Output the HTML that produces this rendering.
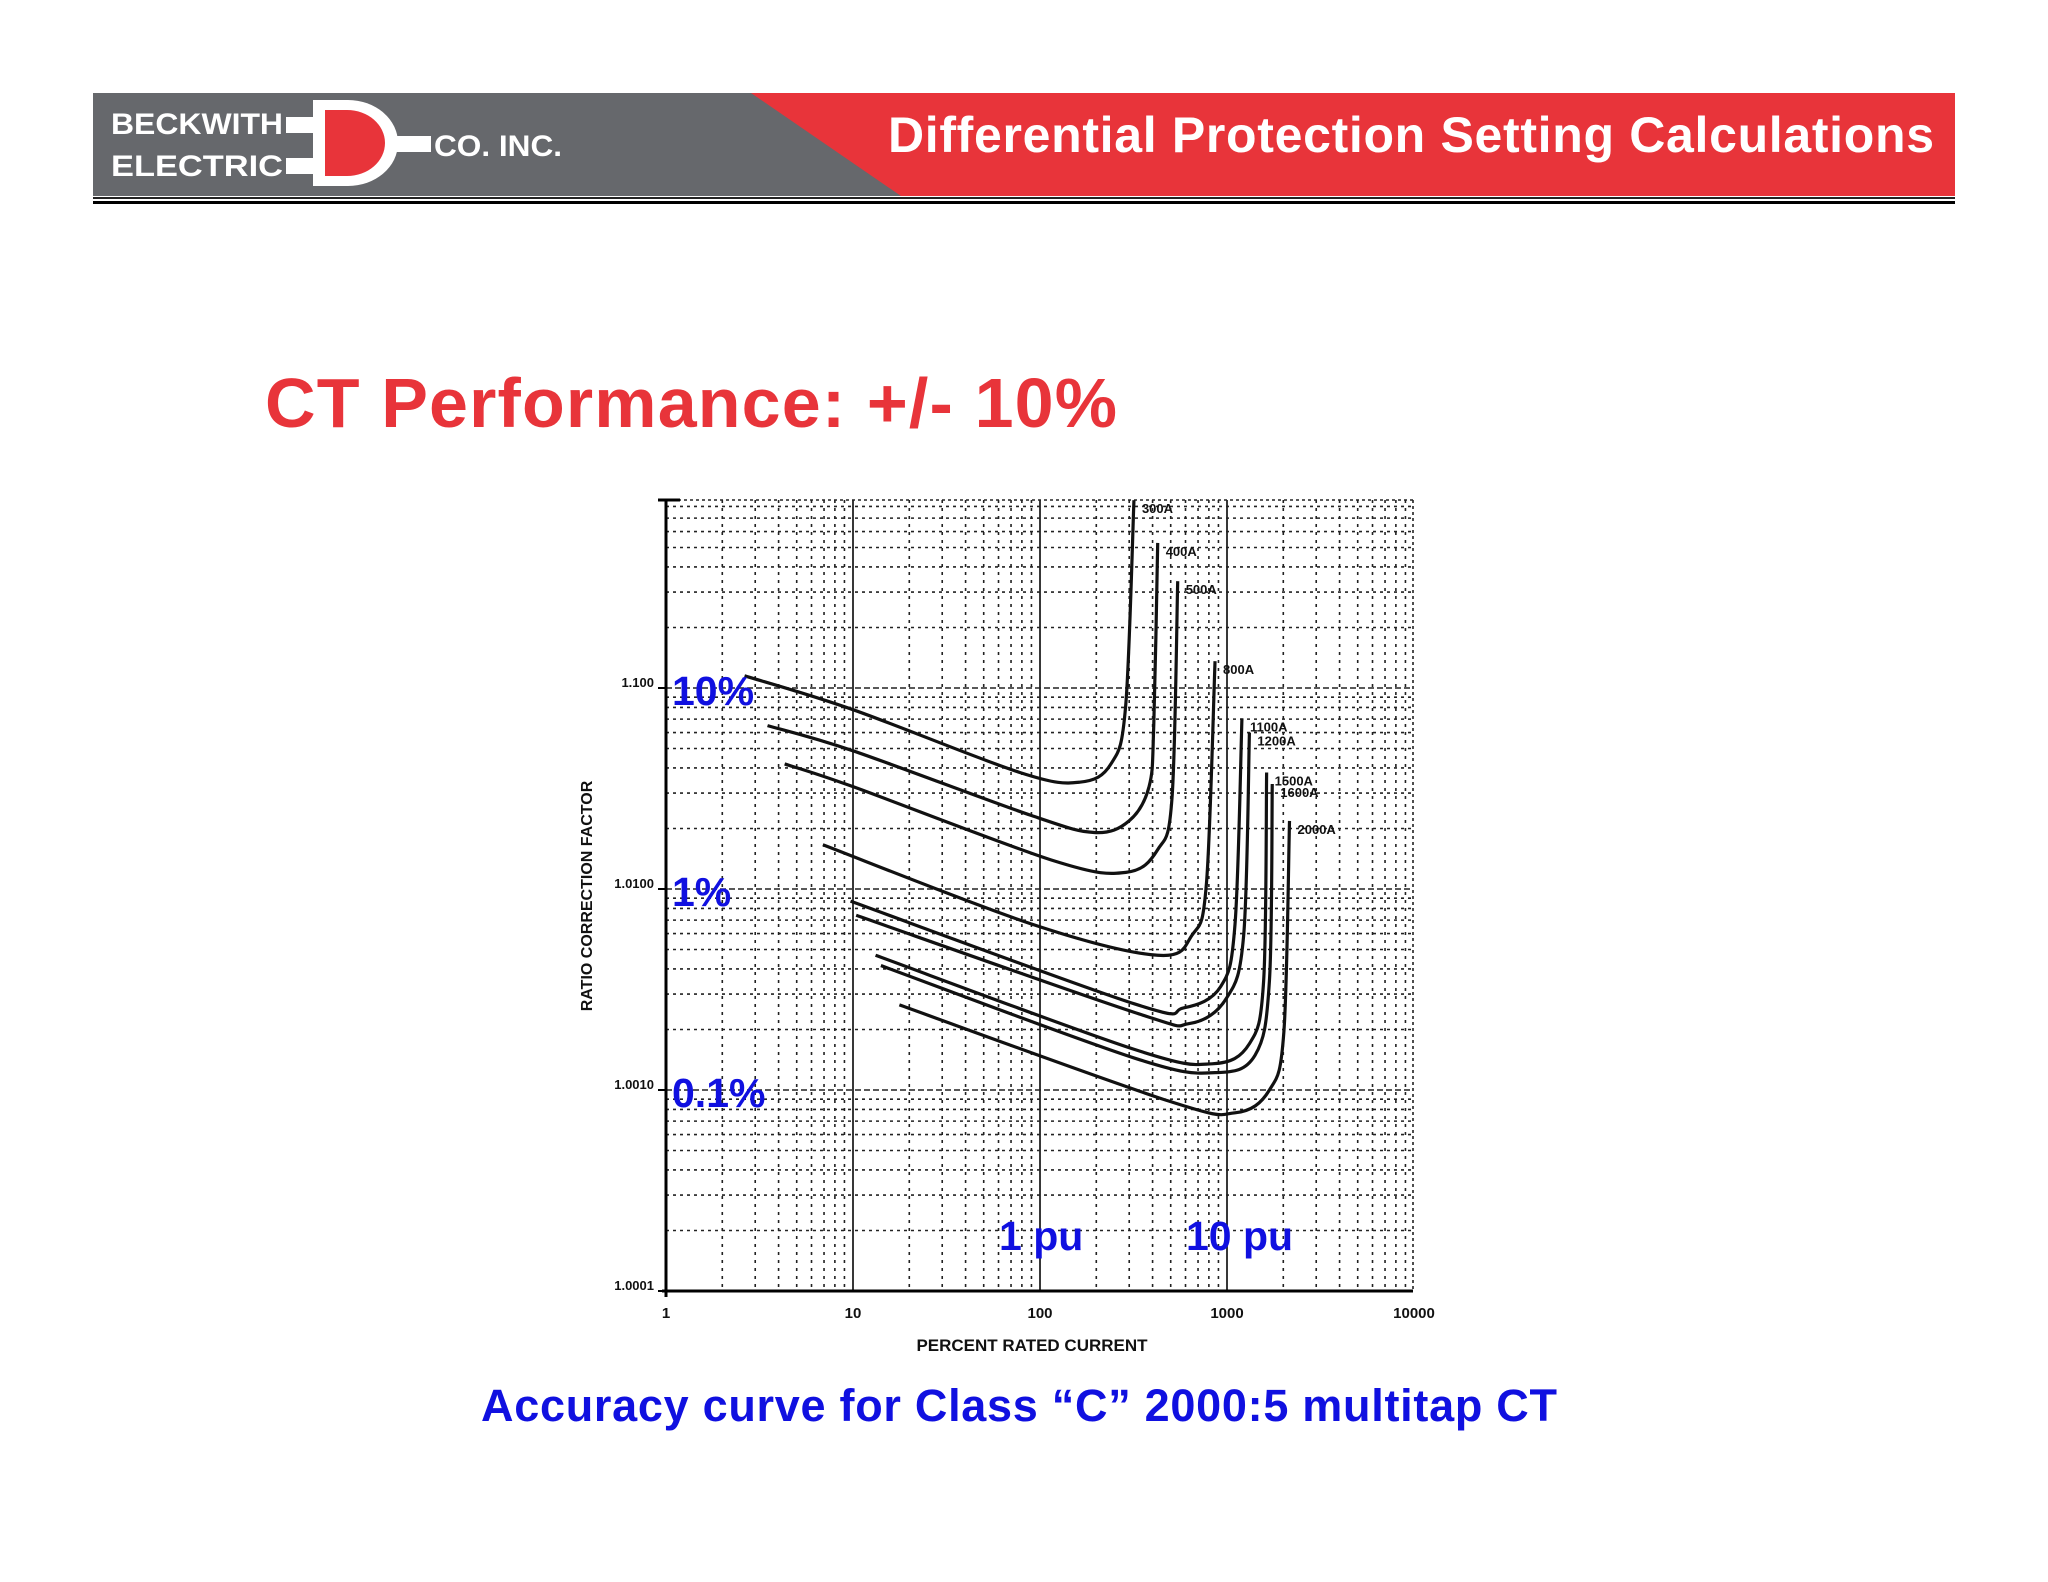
<!DOCTYPE html>
<html><head><meta charset="utf-8"><style>
html,body{margin:0;padding:0;background:#fff;}
svg{display:block;font-family:"Liberation Sans",Arial,sans-serif;}
</style></head><body>
<svg id="page" width="2048" height="1582" viewBox="0 0 2048 1582">
<g>
  <rect x="93" y="93" width="1862" height="103" fill="#66686c"/>
  <polygon points="751,93 1955,93 1955,196 901,196" fill="#e8343a"/>
  <rect x="93" y="197" width="1862" height="2" fill="#222"/>
  <rect x="93" y="201" width="1862" height="3" fill="#000"/>
  <text x="111" y="134" font-size="30" font-weight="bold" fill="#fff" textLength="172" lengthAdjust="spacingAndGlyphs">BECKWITH</text>
  <text x="111" y="176" font-size="30" font-weight="bold" fill="#fff" textLength="172" lengthAdjust="spacingAndGlyphs">ELECTRIC</text>
  <g>
    <rect x="286" y="117" width="30" height="16" fill="#fff"/>
    <rect x="286" y="158" width="30" height="16" fill="#fff"/>
    <rect x="395" y="136" width="36" height="16" fill="#fff"/>
    <path d="M313,100 h35 a50,43 0 0 1 0,86 h-35 z" fill="#fff"/>
    <path d="M325,110 h22 a38,33 0 0 1 0,66 h-22 z" fill="#e8343a"/>
  </g>
  <text x="434" y="156" font-size="30" font-weight="bold" fill="#fff" textLength="128" lengthAdjust="spacingAndGlyphs">CO. INC.</text>
  <text x="888" y="152" font-size="50" font-weight="bold" fill="#fff" textLength="1046">Differential Protection Setting Calculations</text>
</g>
<text x="265" y="427" font-size="70" font-weight="bold" fill="#e8343a" textLength="852">CT Performance: +/- 10%</text>
<g id="chart"></g>
<text x="481" y="1421" font-size="45" font-weight="bold" fill="#1010e0" textLength="1076">Accuracy curve for Class “C” 2000:5 multitap CT</text>
</svg>
<script>
// ---- data ----
const xTicks = [1, 10, 100, 1000, 10000];
const xTickLabels = ["1", "10", "100", "1000", "10000"];
const yTicks = [0.01, 0.1, 1, 10];
const yTickLabels = ["1.0001", "1.0010", "1.0100", "1.100"];
const seriesNames = ["300A","400A","500A","800A","1100A","1200A","1500A","1600A","2000A"];
const x300 = [2.63, 10, 78, 163, 240, 287, 318];
const y300 = [11.5, 7.8, 3.8, 3.4, 4.2, 8.1, 86];
const x400 = [3.49, 10, 90, 195, 299, 383, 406, 426];
const y400 = [6.5, 4.87, 2.32, 1.91, 2.18, 3.23, 6.6, 52.7];
const x500 = [4.31, 10, 119, 288, 426, 508, 545];
const y500 = [4.19, 3.23, 1.38, 1.21, 1.57, 2.83, 34];
const x800 = [6.9, 90, 426, 650, 776, 863];
const y800 = [1.66, 0.67, 0.468, 0.589, 1.06, 13.6];
const x1100 = [9.7, 321, 585, 925, 1104, 1202];
const y1100 = [0.87, 0.268, 0.256, 0.327, 0.67, 7.07];
const x1200 = [10.4, 321, 628, 993, 1228, 1318];
const y1200 = [0.74, 0.243, 0.214, 0.286, 0.589, 6.0];
const x1500 = [13.2, 321, 832, 1318, 1570, 1629];
const y1500 = [0.468, 0.159, 0.135, 0.17, 0.349, 3.8];
const x1600 = [14.1, 321, 863, 1413, 1686, 1746];
const y1600 = [0.416, 0.144, 0.122, 0.149, 0.349, 3.33];
const x2000 = [17.7, 490, 1104, 1686, 2014, 2159];
const y2000 = [0.265, 0.088, 0.077, 0.1, 0.194, 2.18];
const seriesX = [x300, x400, x500, x800, x1100, x1200, x1500, x1600, x2000];
const seriesY = [y300, y400, y500, y800, y1100, y1200, y1500, y1600, y2000];
const pctLabels = ["10%", "1%", "0.1%"];
const pctValues = [10, 1, 0.1];
const puLabels = ["1 pu", "10 pu"];
const puValues = [100, 1000];

// ---- axes ----
const X0 = 666, XDEC = 187, YB = 1291, YDEC = 201, YTOP = 500, XR = 1413;
function sx(v){ return X0 + Math.log10(v) * XDEC; }
function sy(v){ return YB - (Math.log10(v) + 2) * YDEC; }
const NS = "http://www.w3.org/2000/svg";
const chart = document.getElementById('chart');
function mk(tag, attrs, parent){ const e = document.createElementNS(NS, tag); for (const k in attrs) e.setAttribute(k, attrs[k]); (parent||chart).appendChild(e); return e; }

// grid
const grid = mk('g', {});


for (let d = 0; d < 4; d++) {
  for (let m = 1; m <= 9; m++) {
    const v = Math.pow(10, d) * m;
    const x = sx(v);
    const major = m === 1 && d > 0;
    const l = mk('line', {x1:x, x2:x, y1:YTOP, y2:YB, stroke:'#222', 'stroke-width': major ? 1.8 : 1.6, 'stroke-dasharray': major ? 'none' : '3,5'}, grid);
    
    
  }
}
for (let d = -2; d < 2; d++) {
  for (let m = 1; m <= 9; m++) {
    const v = Math.pow(10, d) * m;
    const y = sy(v);
    if (y < YTOP) continue;
    const l = mk('line', {x1:X0, x2:XR, y1:y, y2:y, stroke:'#222', 'stroke-width':1.6, 'stroke-dasharray': m === 1 ? '6,3' : '3,4'}, grid);
    
    
  }
}
const rb = mk('line', {x1:XR, x2:XR, y1:YTOP, y2:YB, stroke:'#222', 'stroke-width':1.6, 'stroke-dasharray':'3,3'}, grid);


const tb = mk('line', {x1:X0, x2:XR, y1:YTOP, y2:YTOP, stroke:'#222', 'stroke-width':1.6, 'stroke-dasharray':'3,3'}, grid);



// axes
const xa = mk('line', {x1:X0 - 4, x2:XR, y1:YB, y2:YB, stroke:'#000', 'stroke-width':3});


const ya = mk('line', {x1:X0, x2:X0, y1:YTOP, y2:YB + 6, stroke:'#000', 'stroke-width':3});


mk('line', {x1:X0 - 8, x2:X0 + 14, y1:YTOP, y2:YTOP, stroke:'#000', 'stroke-width':3});

xTicks.forEach((v, i) => {
  const t = mk('text', {x: sx(v), y: YB + 27, 'font-size': 15, 'font-weight': 'bold', 'text-anchor': 'middle', fill: '#111'});
  t.textContent = xTickLabels[i];
  
  
});
yTicks.forEach((v, i) => {
  mk('line', {x1:X0 - 8, x2:X0, y1:sy(v), y2:sy(v), stroke:'#000', 'stroke-width':2});
  const t = mk('text', {x: X0 - 12, y: sy(v) - 1, 'font-size': 13, 'font-weight': 'bold', 'text-anchor': 'end', fill: '#111'});
  t.textContent = yTickLabels[i];
  
  
});
const xt = mk('text', {x: 1032, y: 1351, 'font-size': 17, 'font-weight': 'bold', 'text-anchor': 'middle', fill: '#111'});
xt.textContent = 'PERCENT RATED CURRENT';


const yt = mk('text', {x: 0, y: 0, 'font-size': 16, 'font-weight': 'bold', 'text-anchor': 'middle', fill: '#111', transform: 'translate(592,896) rotate(-90)'});
yt.textContent = 'RATIO CORRECTION FACTOR';



// curves
function pathFor(xs, ys){
  const p = xs.map((x, i) => [sx(x), sy(ys[i])]);
  let d = 'M' + p[0][0] + ',' + p[0][1];
  for (let i = 0; i < p.length - 1; i++) {
    const p0 = p[Math.max(0, i - 1)], p1 = p[i], p2 = p[i + 1], p3 = p[Math.min(p.length - 1, i + 2)];
    const c1x = p1[0] + (p2[0] - p0[0]) / 6, c1y = p1[1] + (p2[1] - p0[1]) / 6;
    const c2x = p2[0] - (p3[0] - p1[0]) / 6, c2y = p2[1] - (p3[1] - p1[1]) / 6;
    d += ' C' + c1x + ',' + c1y + ' ' + c2x + ',' + c2y + ' ' + p2[0] + ',' + p2[1];
  }
  return d;
}
seriesNames.forEach((name, i) => {
  const xs = seriesX[i], ys = seriesY[i];
  const c = mk('path', {d: pathFor(xs, ys), fill: 'none', stroke: '#111', 'stroke-width': 3.2, 'stroke-linejoin': 'round'});
  
  
  const n = xs.length - 1;
  const t = mk('text', {x: sx(xs[n]) + 8, y: sy(ys[n]) + 13, 'font-size': 13, 'font-weight': 'bold', fill: '#111'});
  t.textContent = name;
  
  
});

// blue annotations
pctLabels.forEach((lab, i) => {
  const t = mk('text', {x: 672, y: sy(pctValues[i]) + 17, 'font-size': 41, 'font-weight': 'bold', fill: '#1010e0'});
  t.textContent = lab;
  
  
});
puLabels.forEach((lab, i) => {
  const t = mk('text', {x: sx(puValues[i]) - 41, y: 1250, 'font-size': 41, 'font-weight': 'bold', fill: '#1010e0'});
  t.textContent = lab;
  
  
});
</script>
</body></html>
